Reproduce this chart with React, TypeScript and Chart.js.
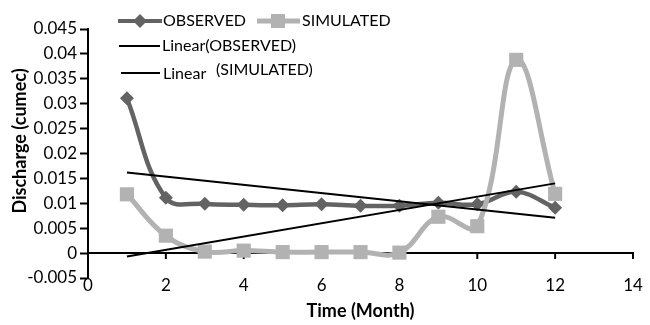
import React, { useEffect, useRef } from "react";
import { Chart, registerables } from "chart.js";

Chart.register(...registerables);

// ---- data ----
const months = [1, 2, 3, 4, 5, 6, 7, 8, 9, 10, 11, 12];
const observed = [0.0311, 0.0111, 0.0099, 0.0097, 0.0096, 0.0098, 0.0095, 0.0095, 0.0101, 0.0098, 0.0123, 0.0091];
const simulated = [0.0118, 0.0035, 0.0003, 0.0005, 0.0002, 0.0002, 0.0002, 0.0001, 0.0073, 0.0054, 0.0388, 0.0119];
const trendX = [1, 12];
const trendObserved = [0.0162, 0.0071];
const trendSimulated = [-0.0007, 0.0140];
const xTicks = [0, 2, 4, 6, 8, 10, 12, 14];
const yTickValues = [-0.005, 0, 0.005, 0.01, 0.015, 0.02, 0.025, 0.03, 0.035, 0.04, 0.045];

const legendLabels = ["OBSERVED", "SIMULATED", "Linear(OBSERVED)", "Linear", "(SIMULATED)"];
const xTitle = "Time (Month)";
const yTitle = "Discharge (cumec)";

const OBS_COLOR = "#636363";
const SIM_COLOR = "#b2b2b2";
const FONT = "Lato, 'Open Sans', sans-serif";

const zeroAxisPlugin = {
  id: "zeroAxis",
  beforeDatasetsDraw(chart: any) {
    const { ctx, chartArea, scales } = chart;
    const x = scales.x;
    const y = scales.y;
    const py = y.getPixelForValue(0);
    ctx.save();
    ctx.strokeStyle = "#000";
    ctx.lineWidth = 2;
    ctx.beginPath();
    ctx.moveTo(chartArea.left, py);
    ctx.lineTo(chartArea.right + 1, py);
    xTicks.forEach((v) => {
      const px = x.getPixelForValue(v);
      ctx.moveTo(px, py);
      ctx.lineTo(px, py + 6);
    });
    ctx.stroke();
    ctx.restore();
  },
};

function diamond(ctx: CanvasRenderingContext2D, cx: number, cy: number, r: number, color: string) {
  ctx.fillStyle = color;
  ctx.beginPath();
  ctx.moveTo(cx, cy - r);
  ctx.lineTo(cx + r, cy);
  ctx.lineTo(cx, cy + r);
  ctx.lineTo(cx - r, cy);
  ctx.closePath();
  ctx.fill();
}

const legendPlugin = {
  id: "customLegend",
  afterDraw(chart: any) {
    const ctx: CanvasRenderingContext2D = chart.ctx;
    ctx.save();
    // y-axis title
    ctx.save();
    ctx.translate(20, 141);
    ctx.rotate(-Math.PI / 2);
    ctx.font = `bold 18px ${FONT}`;
    ctx.fillStyle = "#000";
    ctx.textAlign = "center";
    ctx.textBaseline = "middle";
    ctx.fillText(yTitle, 0, 0);
    ctx.restore();

    ctx.font = `16px ${FONT}`;
    ctx.textBaseline = "middle";
    ctx.textAlign = "left";
    // row 1
    ctx.lineCap = "butt";
    ctx.strokeStyle = OBS_COLOR;
    ctx.lineWidth = 4;
    ctx.beginPath();
    ctx.moveTo(118, 21);
    ctx.lineTo(162, 21);
    ctx.stroke();
    diamond(ctx, 140, 21, 7, OBS_COLOR);
    ctx.fillStyle = "#000";
    ctx.fillText(legendLabels[0], 163, 21);

    ctx.strokeStyle = SIM_COLOR;
    ctx.lineWidth = 5;
    ctx.beginPath();
    ctx.moveTo(257, 21);
    ctx.lineTo(300, 21);
    ctx.stroke();
    ctx.fillStyle = SIM_COLOR;
    ctx.fillRect(271, 14, 14, 14);
    ctx.fillStyle = "#000";
    ctx.fillText(legendLabels[1], 302, 21);

    // row 2
    ctx.strokeStyle = "#000";
    ctx.lineWidth = 2;
    ctx.beginPath();
    ctx.moveTo(119, 46);
    ctx.lineTo(160, 46);
    ctx.stroke();
    ctx.fillText(legendLabels[2], 162, 46);

    // row 3
    ctx.beginPath();
    ctx.moveTo(121, 73);
    ctx.lineTo(160, 73);
    ctx.stroke();
    ctx.fillText(legendLabels[3], 163, 74);
    ctx.fillText(legendLabels[4], 216, 70);
    ctx.restore();
  },
};

export default function App() {
  const canvasRef = useRef<HTMLCanvasElement | null>(null);

  useEffect(() => {
    if (!canvasRef.current) return;
    const chart = new Chart(canvasRef.current, {
      type: "line",
      data: {
        datasets: [
          {
            label: "Linear(OBSERVED)",
            data: trendX.map((x, i) => ({ x, y: trendObserved[i] })),
            borderColor: "#000",
            borderWidth: 2,
            pointRadius: 0,
            tension: 0,
            order: 0,
          },
          {
            label: "Linear (SIMULATED)",
            data: trendX.map((x, i) => ({ x, y: trendSimulated[i] })),
            borderColor: "#000",
            borderWidth: 2,
            pointRadius: 0,
            tension: 0,
            order: 1,
          },
          {
            label: "SIMULATED",
            data: months.map((x, i) => ({ x, y: simulated[i] })),
            borderColor: SIM_COLOR,
            backgroundColor: SIM_COLOR,
            borderWidth: 5,
            pointStyle: "rect",
            pointRadius: 10,
            pointBorderWidth: 0,
            tension: 0.4,
            order: 2,
          },
          {
            label: "OBSERVED",
            data: months.map((x, i) => ({ x, y: observed[i] })),
            borderColor: OBS_COLOR,
            backgroundColor: OBS_COLOR,
            borderWidth: 4.5,
            pointStyle: "rectRot",
            pointRadius: 7,
            pointBorderWidth: 0,
            tension: 0.4,
            order: 3,
          },
        ],
      },
      options: {
        animation: false,
        responsive: true,
        maintainAspectRatio: false,
        layout: { padding: { left: 0, right: 17, top: 29, bottom: 0 } },
        plugins: { legend: { display: false }, tooltip: { enabled: false } },
        scales: {
          x: {
            type: "linear",
            min: 0,
            max: 14,
            afterBuildTicks(scale: any) {
              scale.ticks = xTicks.map((v) => ({ value: v }));
            },
            ticks: { font: { family: FONT, size: 17 }, color: "#000", padding: -3, maxRotation: 0 },
            grid: { display: false, drawTicks: false },
            border: { display: false },
            title: {
              display: true,
              text: xTitle,
              color: "#000",
              font: { family: FONT, size: 18, weight: "bold" },
              padding: { top: 0, bottom: 3 },
            },
            afterFit(scale: any) {
              scale.height = 47;
            },
          },
          y: {
            type: "linear",
            min: -0.005,
            max: 0.045,
            afterBuildTicks(scale: any) {
              scale.ticks = yTickValues.map((v) => ({ value: v }));
            },
            ticks: {
              font: { family: FONT, size: 17 },
              color: "#000",
              padding: 3,
              callback: (v: any) => String(parseFloat(Number(v).toFixed(3))),
            },
            grid: { drawOnChartArea: false, tickLength: 8, tickColor: "#000", tickWidth: 2 },
            border: { display: true, color: "#000", width: 2 },
            title: { display: false },
            afterFit(scale: any) {
              scale.width = 88;
            },
          },
        },
      } as any,
      plugins: [zeroAxisPlugin, legendPlugin],
    });
    return () => chart.destroy();
  }, []);

  return (
    <div style={{ position: "fixed", left: 0, top: 0, width: 650, height: 325, background: "#fff" }}>
      <canvas ref={canvasRef} />
    </div>
  );
}
